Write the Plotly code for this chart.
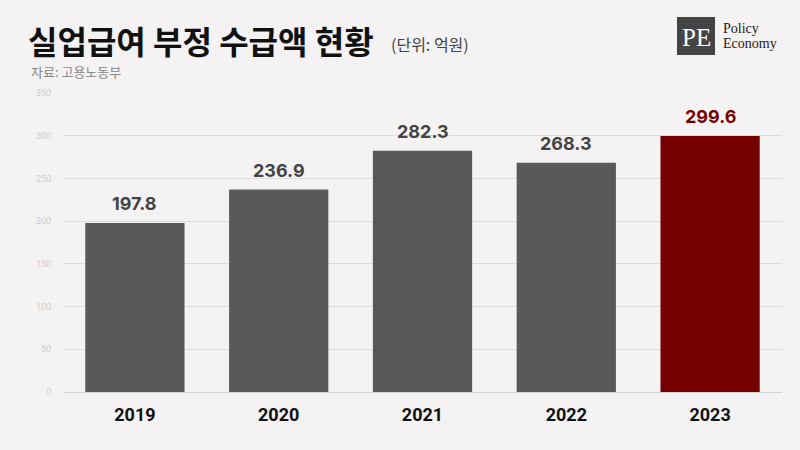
import plotly.graph_objects as go

years = ["2019", "2020", "2021", "2022", "2023"]
values = [197.8, 236.9, 282.3, 268.3, 299.6]
bar_colors = ["#595959", "#595959", "#595959", "#595959", "#750000"]
label_colors = ["#444444", "#444444", "#444444", "#444444", "#750000"]
y_ticks = [0, 50, 100, 150, 200, 250, 300, 350]

title_text = "실업급여 부정 수급액 현황"
unit_text = "(단위: 억원)"
source_text = "자료: 고용노동부"

W, H = 800, 450
L, R, T, B = 63, 18, 93, 58
PW, PH = W - L - R, H - T - B

def px(x):
    return (x - L) / PW

def py(y):
    return 1 - (y - T) / PH

BG = "#f4f2f3"
fig = go.Figure()
fig.add_trace(go.Bar(
    x=years, y=values,
    marker=dict(color=bar_colors, line=dict(width=0)),
    hoverinfo="skip",
))

fig.update_layout(
    width=W, height=H,
    margin=dict(l=L, r=R, t=T, b=B),
    paper_bgcolor=BG, plot_bgcolor=BG,
    bargap=0.31,
    showlegend=False,
    font=dict(family="Noto Sans CJK KR, sans-serif"),
    xaxis=dict(
        type="category", range=[-0.5, len(years) - 0.5],
        showgrid=False, showline=False, ticks="",
        tickfont=dict(family="Roboto, Inter, sans-serif", size=18, color="#111111", weight="bold"),
        ticklabelstandoff=10,
    ),
    yaxis=dict(
        range=[0, 350], tickvals=y_ticks,
        showgrid=True, gridcolor="#dddbdc", gridwidth=1,
        zeroline=True, zerolinecolor="#d5d3d4", zerolinewidth=1,
        ticks="outside", ticklen=0,
        tickfont=dict(family="Roboto, sans-serif", size=9, color="#cfcdce"),
        ticklabelstandoff=9,
    ),
)

anns = []
for i, (v, c) in enumerate(zip(values, label_colors)):
    anns.append(dict(text=f"<b>{v:.1f}</b>", x=i, y=v, xref="x", yref="y",
                     xanchor="center", yanchor="bottom", yshift=7, showarrow=False,
                     font=dict(family="Inter, Roboto, sans-serif", size=18, color=c)))

hdr = [
    dict(text=f"<b>{title_text}</b>", x=px(26), y=py(40), xanchor="left", yanchor="middle",
         font=dict(family="Noto Sans CJK KR", size=32, color="#111111")),
    dict(text=unit_text, x=px(389), y=py(44), xanchor="left", yanchor="middle",
         font=dict(family="Noto Sans CJK KR", size=16, color="#444444")),
    dict(text=source_text, x=px(29), y=py(71), xanchor="left", yanchor="middle",
         font=dict(family="Noto Sans CJK KR", size=13, color="#888888")),
    dict(text="PE", x=px(696), y=py(37), xanchor="center", yanchor="middle",
         font=dict(family="Liberation Serif, DejaVu Serif, serif", size=25, color="#ffffff")),
    dict(text="Policy", x=px(721), y=py(29), xanchor="left", yanchor="middle",
         font=dict(family="Liberation Serif, DejaVu Serif, serif", size=14, color="#222222")),
    dict(text="Economy", x=px(721), y=py(44), xanchor="left", yanchor="middle",
         font=dict(family="Liberation Serif, DejaVu Serif, serif", size=14, color="#222222")),
]
for a in hdr:
    a.update(xref="paper", yref="paper", showarrow=False)
fig.update_layout(annotations=anns + hdr)

fig.add_shape(type="rect", xref="paper", yref="paper",
              x0=px(677), x1=px(715), y0=py(55), y1=py(17),
              fillcolor="#444444", line=dict(width=0), layer="below")

fig.write_html("out.html")
